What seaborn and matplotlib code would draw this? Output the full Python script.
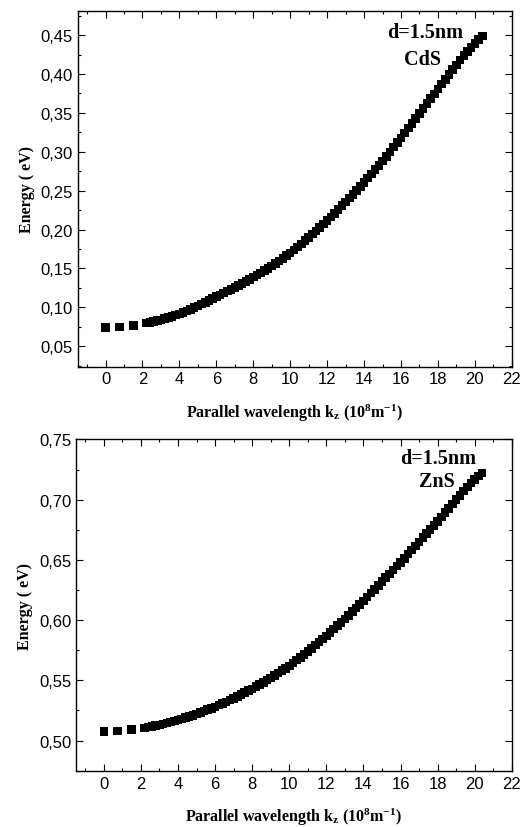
import numpy as np
import pandas as pd
import seaborn as sns
import matplotlib.pyplot as plt
from matplotlib.ticker import MultipleLocator, FuncFormatter

# wave vector k_z (10^8 m^-1)
k_values = [0.0, 0.75, 1.5,
            2.2, 2.4, 2.6, 2.8, 3.0, 3.2, 3.4, 3.6, 3.8, 4.0,
            4.2, 4.4, 4.6, 4.8, 5.0, 5.2, 5.4, 5.6, 5.8, 6.0,
            6.2, 6.4, 6.6, 6.8, 7.0, 7.2, 7.4, 7.6, 7.8, 8.0,
            8.2, 8.4, 8.6, 8.8, 9.0, 9.2, 9.4, 9.6, 9.8, 10.0,
            10.2, 10.4, 10.6, 10.8, 11.0, 11.2, 11.4, 11.6, 11.8, 12.0,
            12.2, 12.4, 12.6, 12.8, 13.0, 13.2, 13.4, 13.6, 13.8, 14.0,
            14.2, 14.4, 14.6, 14.8, 15.0, 15.2, 15.4, 15.6, 15.8, 16.0,
            16.2, 16.4, 16.6, 16.8, 17.0, 17.2, 17.4, 17.6, 17.8, 18.0,
            18.2, 18.4, 18.6, 18.8, 19.0, 19.2, 19.4, 19.6, 19.8, 20.0,
            20.2, 20.4]

# energy (eV), CdS
cds_energy = [0.0744, 0.0750, 0.0770,
              0.0797, 0.0807, 0.0818, 0.0829, 0.0840, 0.0854, 0.0868, 0.0883, 0.0899, 0.0915,
              0.0934, 0.0954, 0.0975, 0.0997, 0.1020, 0.1043, 0.1066, 0.1090, 0.1113, 0.1137,
              0.1161, 0.1185, 0.1209, 0.1233, 0.1257, 0.1282, 0.1308, 0.1334, 0.1361, 0.1388,
              0.1416, 0.1444, 0.1473, 0.1502, 0.1531, 0.1564, 0.1597, 0.1631, 0.1665, 0.1700,
              0.1738, 0.1777, 0.1817, 0.1857, 0.1898, 0.1941, 0.1984, 0.2028, 0.2072, 0.2116,
              0.2163, 0.2210, 0.2258, 0.2306, 0.2354, 0.2404, 0.2454, 0.2505, 0.2556, 0.2608,
              0.2662, 0.2716, 0.2771, 0.2826, 0.2882, 0.2941, 0.3000, 0.3060, 0.3120, 0.3180,
              0.3242, 0.3304, 0.3367, 0.3429, 0.3492, 0.3555, 0.3618, 0.3682, 0.3745, 0.3808,
              0.3871, 0.3933, 0.3995, 0.4057, 0.4118, 0.4178, 0.4236, 0.4290, 0.4342, 0.4390,
              0.4445, 0.4488]

# energy (eV), ZnS
zns_energy = [0.5075, 0.5080, 0.5090,
              0.5106, 0.5112, 0.5118, 0.5124, 0.5130, 0.5138, 0.5146, 0.5154, 0.5162, 0.5170,
              0.5180, 0.5190, 0.5200, 0.5210, 0.5220, 0.5232, 0.5244, 0.5256, 0.5268, 0.5280,
              0.5294, 0.5308, 0.5322, 0.5336, 0.5350, 0.5366, 0.5382, 0.5398, 0.5414, 0.5430,
              0.5448, 0.5466, 0.5484, 0.5502, 0.5520, 0.5540, 0.5560, 0.5580, 0.5600, 0.5620,
              0.5644, 0.5668, 0.5692, 0.5716, 0.5740, 0.5766, 0.5792, 0.5818, 0.5844, 0.5870,
              0.5898, 0.5926, 0.5954, 0.5982, 0.6010, 0.6040, 0.6070, 0.6100, 0.6130, 0.6160,
              0.6192, 0.6224, 0.6256, 0.6288, 0.6320, 0.6352, 0.6384, 0.6416, 0.6448, 0.6480,
              0.6514, 0.6548, 0.6582, 0.6616, 0.6650, 0.6684, 0.6718, 0.6752, 0.6786, 0.6820,
              0.6856, 0.6892, 0.6928, 0.6964, 0.7000, 0.7036, 0.7071, 0.7105, 0.7138, 0.7170,
              0.7198, 0.7220]

x_ticks = [0, 2, 4, 6, 8, 10, 12, 14, 16, 18, 20, 22]
cds_yticks = [0.05, 0.10, 0.15, 0.20, 0.25, 0.30, 0.35, 0.40, 0.45]
zns_yticks = [0.50, 0.55, 0.60, 0.65, 0.70, 0.75]

sns.set_style("ticks")
plt.rcParams['font.family'] = ['Liberation Sans', 'DejaVu Sans']
plt.rcParams['text.color'] = 'black'
plt.rcParams['axes.labelcolor'] = 'black'
plt.rcParams['mathtext.fontset'] = 'custom'
plt.rcParams['mathtext.rm'] = 'Liberation Serif:bold'
plt.rcParams['mathtext.it'] = 'Liberation Serif:bold'
plt.rcParams['mathtext.bf'] = 'Liberation Serif:bold'

df = pd.DataFrame({'k': k_values, 'CdS': cds_energy, 'ZnS': zns_energy})

fig = plt.figure(figsize=(5.26, 8.28), dpi=100)
ax1 = fig.add_axes([0.148, 0.556, 0.825, 0.4295])
ax2 = fig.add_axes([0.1445, 0.068, 0.8285, 0.400])

comma = FuncFormatter(lambda v, p: f"{v:.2f}".replace('.', ','))
xlabel = r'Parallel wavelength k$_\mathrm{z}$ (10$^\mathrm{8}$m$^\mathrm{-1}$)'

# axes, column, y limits, y ticks, label anchors (axes fraction)
panels = [(ax1, 'CdS', (0.0238, 0.481), cds_yticks, (0.80, 0.94), (0.795, 0.865)),
          (ax2, 'ZnS', (0.475, 0.75), zns_yticks, (0.83, 0.944), (0.827, 0.876))]

for ax, name, ylim, yticks, pos_d, pos_name in panels:
    sns.scatterplot(data=df, x='k', y=name, ax=ax, marker='s', s=38,
                    color='black', edgecolor='none', linewidth=0)
    ax.set_xlim(-1.5, 22)
    ax.set_ylim(*ylim)
    ax.set_xticks(x_ticks)
    ax.set_yticks(yticks)
    ax.xaxis.set_minor_locator(MultipleLocator(1))
    ax.yaxis.set_minor_locator(MultipleLocator(0.025))
    ax.yaxis.set_major_formatter(comma)
    ax.tick_params(which='both', direction='in', top=True, right=True,
                   labelsize=12, width=0.8, colors='black')
    ax.tick_params(which='major', length=5)
    ax.tick_params(which='minor', length=2.5)
    for sp in ax.spines.values():
        sp.set_linewidth(1.0)
        sp.set_color('black')
    ax.set_xlabel(xlabel, fontsize=11.5, family='Liberation Serif',
                  fontweight='bold', labelpad=11)
    ax.set_ylabel('Energy ( eV)', fontsize=11.5, family='Liberation Serif',
                  fontweight='bold', labelpad=4)
    ax.text(*pos_d, 'd=1.5nm', transform=ax.transAxes, ha='center',
            va='center', fontsize=14.5, family='Liberation Serif', fontweight='bold')
    ax.text(*pos_name, name, transform=ax.transAxes, ha='center',
            va='center', fontsize=14.5, family='Liberation Serif', fontweight='bold')

fig.savefig('out.png', dpi=100)
